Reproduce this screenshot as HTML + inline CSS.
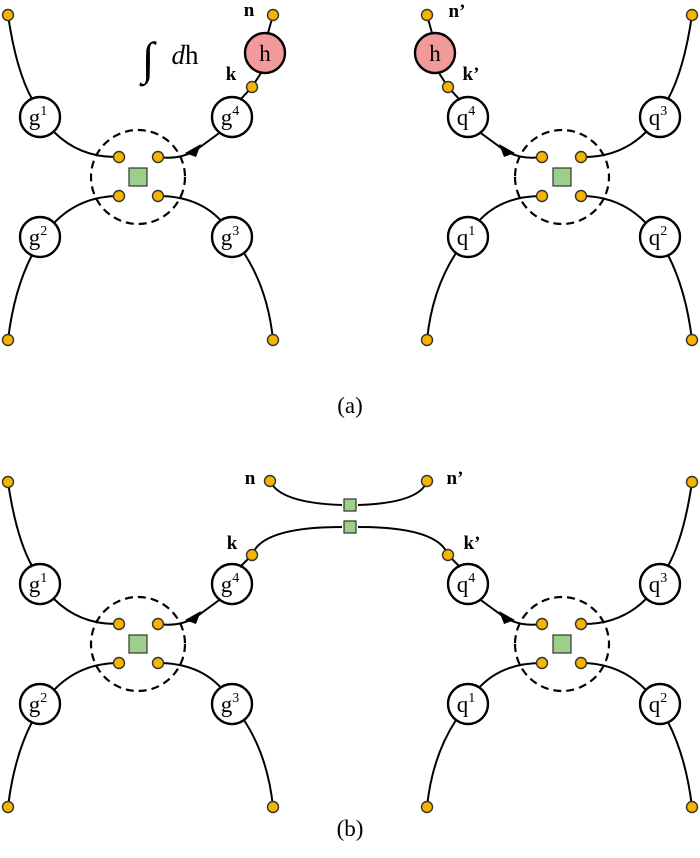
<!DOCTYPE html>
<html><head><style>body{margin:0;background:#fff}svg{display:block}</style></head><body>
<svg width="700" height="858" viewBox="0 0 700 858" xmlns="http://www.w3.org/2000/svg" font-family="Liberation Serif, serif">
<defs>
<g id="half">
  <g fill="none" stroke="#000" stroke-width="2">
    <path d="M8,15 Q16,70 32,99"/>
    <path d="M54,132 Q80,158 119,157"/>
    <path d="M119,196 Q80,196 54,223"/>
    <path d="M32,255 Q14,290 8,340"/>
    <path d="M158,196 Q200,196 223,223"/>
    <path d="M244,253 Q268,290 273,340"/>
    <path d="M158,157 Q180,160 196,150 L222,131"/>
    <circle cx="138" cy="177" r="47" stroke-dasharray="8,5" stroke-width="2.2"/>
  </g>
  <path d="M185,153 L201,144 L196,157 Z" fill="#000"/>
  <g fill="#fff" stroke="#000" stroke-width="2.4">
    <circle cx="40" cy="117" r="20"/>
    <circle cx="40" cy="237" r="20"/>
    <circle cx="232" cy="237" r="20"/>
    <circle cx="232" cy="117" r="20"/>
  </g>
  <rect x="129" y="168" width="18" height="18" fill="#9ccf8a" stroke="#333" stroke-width="1.2"/>
  <g fill="#f5b400" stroke="#333" stroke-width="1.4">
    <circle cx="8" cy="15" r="5.5"/><circle cx="8" cy="340" r="5.5"/><circle cx="273" cy="340" r="5.5"/>
    <circle cx="119" cy="157" r="5.5"/><circle cx="158" cy="157" r="5.5"/>
    <circle cx="119" cy="196" r="5.5"/><circle cx="158" cy="196" r="5.5"/>
  </g>
</g>
<g id="hpart">
  <path d="M273,15 L268,33 M261,73 L252,87 L240,100" stroke="#000" stroke-width="2" fill="none"/>
  <circle cx="265" cy="53" r="20" fill="#f29a9a" stroke="#000" stroke-width="2.4"/>
  <g fill="#f5b400" stroke="#333" stroke-width="1.4"><circle cx="273" cy="15" r="5.5"/><circle cx="252" cy="87" r="5.5"/></g>
</g>
</defs>
<g font-size="22" text-anchor="middle">
<use href="#half"/><use href="#hpart"/>
<g transform="translate(700,0) scale(-1,1)"><use href="#half"/><use href="#hpart"/></g>
<g transform="translate(0,467)"><use href="#half"/></g>
<g transform="translate(700,467) scale(-1,1)"><use href="#half"/></g>
<g fill="none" stroke="#000" stroke-width="2">
  <path d="M270,481 Q280,503 342,505 M358,505 Q420,503 427,481"/>
  <path d="M240,567 L252,555 Q262,527 342,527 M358,527 Q438,527 448,555 L460,567"/>
</g>
<g fill="#9ccf8a" stroke="#333" stroke-width="1.2"><rect x="344" y="499" width="12" height="12"/><rect x="344" y="521" width="12" height="12"/></g>
<g fill="#f5b400" stroke="#333" stroke-width="1.4"><circle cx="270" cy="481" r="5.5"/><circle cx="427" cy="481" r="5.5"/><circle cx="252" cy="555" r="5.5"/><circle cx="448" cy="555" r="5.5"/></g>

<g font-size="23">
<text x="38" y="125">g<tspan font-size="14" dy="-10">1</tspan></text>
<text x="38" y="245">g<tspan font-size="14" dy="-10">2</tspan></text>
<text x="230" y="245">g<tspan font-size="14" dy="-10">3</tspan></text>
<text x="230" y="125">g<tspan font-size="14" dy="-10">4</tspan></text>
<text x="466" y="125">q<tspan font-size="14" dy="-10">4</tspan></text>
<text x="658" y="125">q<tspan font-size="14" dy="-10">3</tspan></text>
<text x="466" y="245">q<tspan font-size="14" dy="-10">1</tspan></text>
<text x="658" y="245">q<tspan font-size="14" dy="-10">2</tspan></text>
<text x="38" y="592">g<tspan font-size="14" dy="-10">1</tspan></text>
<text x="38" y="712">g<tspan font-size="14" dy="-10">2</tspan></text>
<text x="230" y="712">g<tspan font-size="14" dy="-10">3</tspan></text>
<text x="230" y="592">g<tspan font-size="14" dy="-10">4</tspan></text>
<text x="466" y="592">q<tspan font-size="14" dy="-10">4</tspan></text>
<text x="658" y="592">q<tspan font-size="14" dy="-10">3</tspan></text>
<text x="466" y="712">q<tspan font-size="14" dy="-10">1</tspan></text>
<text x="658" y="712">q<tspan font-size="14" dy="-10">2</tspan></text>
<text x="265" y="61">h</text><text x="435" y="61">h</text>
</g>
<g font-size="19" font-weight="bold">
<text x="249" y="16">n</text><text x="231" y="80">k</text>
<text x="457" y="17">n’</text><text x="471" y="80">k’</text>
<text x="250" y="484">n</text><text x="455" y="484">n’</text>
<text x="232" y="549">k</text><text x="472" y="549">k’</text>
</g>
<text x="148" y="74" font-size="46" font-style="italic">∫</text>
<text x="185" y="64" font-size="27"><tspan font-style="italic">d</tspan>h</text>
<text x="350" y="413" font-size="23">(a)</text>
<text x="350" y="836" font-size="23">(b)</text>
</g>
</svg>
</body></html>
